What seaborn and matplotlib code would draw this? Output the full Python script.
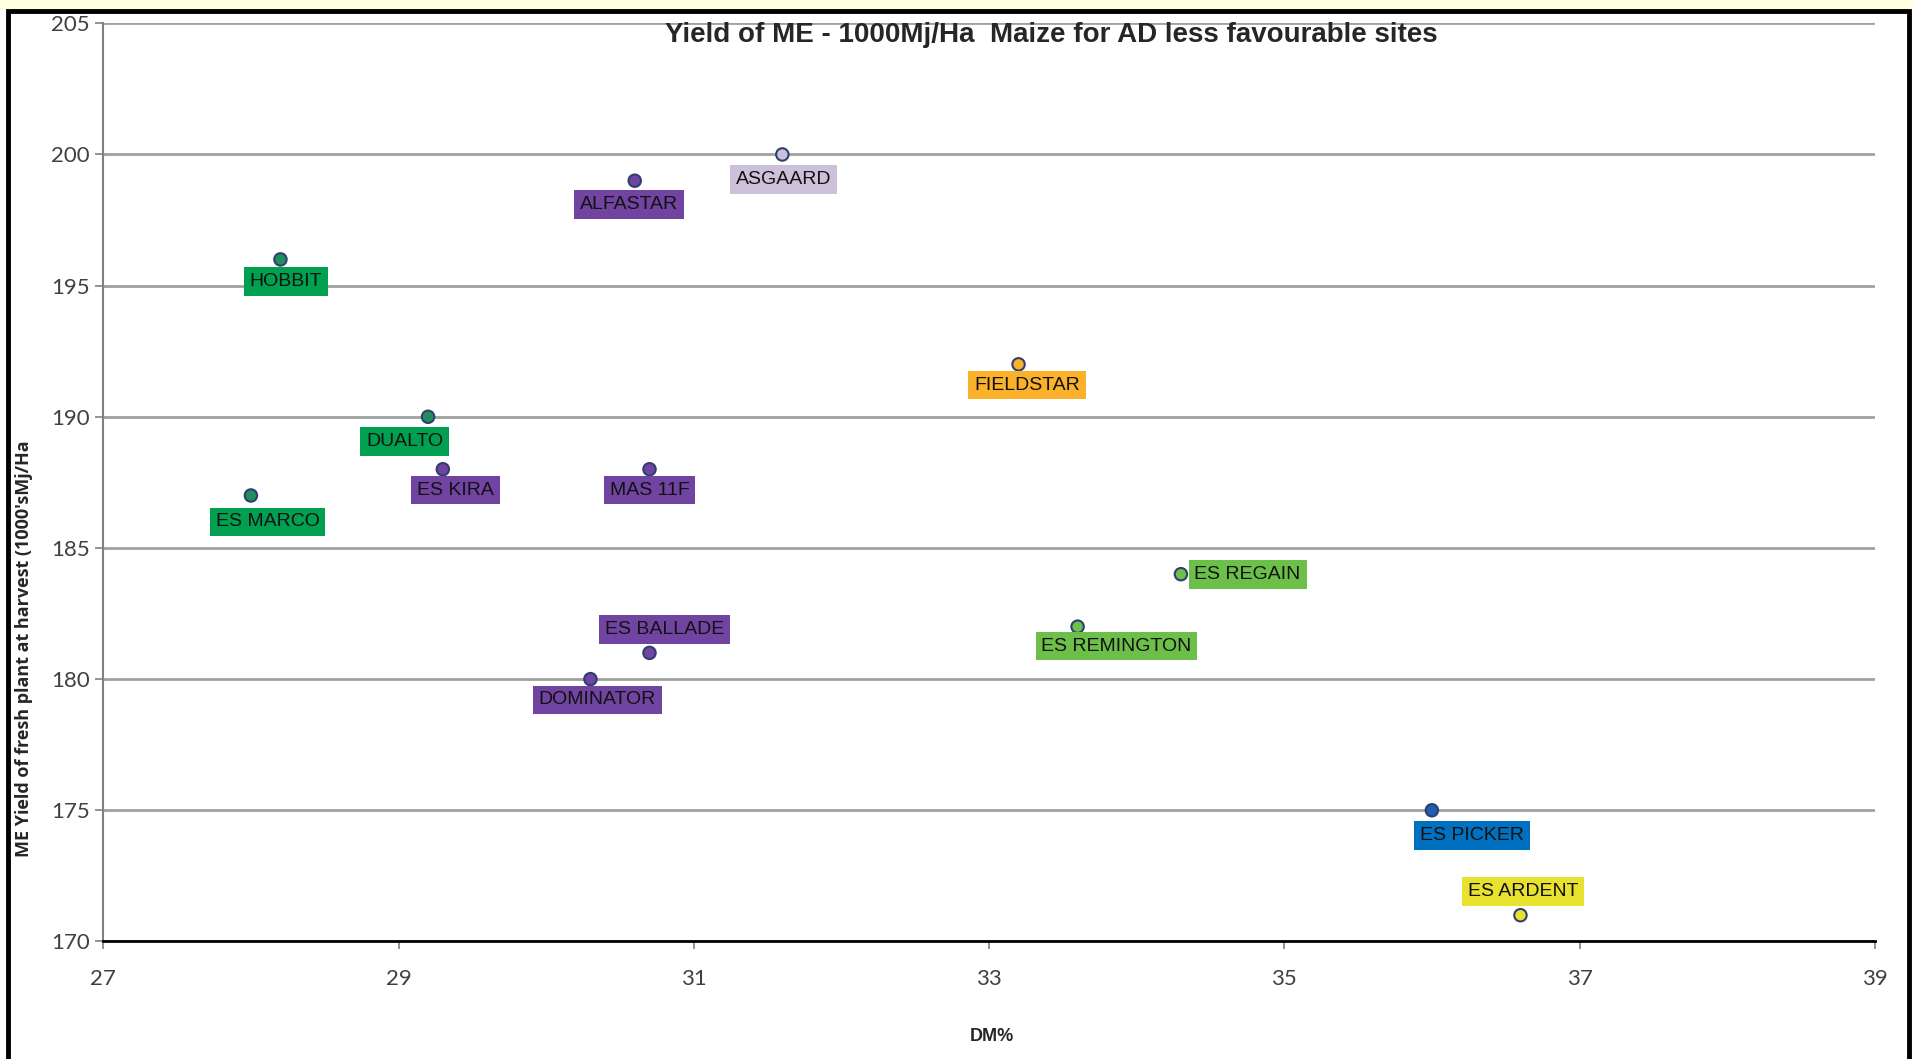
import seaborn as sns
import matplotlib.pyplot as plt
import pandas as pd
from matplotlib.patches import Rectangle

# variety data
varieties = ["HOBBIT", "ALFASTAR", "ASGAARD", "FIELDSTAR", "DUALTO", "ES KIRA",
             "MAS 11F", "ES MARCO", "ES REGAIN", "ES REMINGTON", "ES BALLADE",
             "DOMINATOR", "ES PICKER", "ES ARDENT"]
dm_pct = [28.2, 30.6, 31.6, 33.2, 29.2, 29.3, 30.7, 28.0, 34.3, 33.6, 30.7, 30.3, 36.0, 36.6]
me_yield = [196, 199, 200, 192, 190, 188, 188, 187, 184, 182, 181, 180, 175, 171]

df = pd.DataFrame({"variety": varieties, "dm": dm_pct, "yield": me_yield})

# colours of the labels / points
label_colors = {
    "HOBBIT": "#00A050", "DUALTO": "#00A050", "ES MARCO": "#00A050",
    "ALFASTAR": "#7044A0", "ES KIRA": "#7044A0", "MAS 11F": "#7044A0",
    "ES BALLADE": "#7044A0", "DOMINATOR": "#7044A0",
    "ASGAARD": "#CCC0DA", "FIELDSTAR": "#FBB22A",
    "ES REGAIN": "#6CC04A", "ES REMINGTON": "#6CC04A",
    "ES PICKER": "#0070C0", "ES ARDENT": "#E8E22E",
}
point_colors = dict(label_colors)
point_colors.update({"HOBBIT": "#1E9060", "DUALTO": "#1E9060", "ES MARCO": "#1E9060",
                     "ES PICKER": "#1F5FB0"})

# label offsets in points
offsets = {
    "HOBBIT": (4, -16), "ALFASTAR": (-4, -17), "ASGAARD": (1, -18),
    "FIELDSTAR": (6, -15), "DUALTO": (-17, -18), "ES KIRA": (9, -15),
    "MAS 11F": (0, -15), "ES MARCO": (12, -19), "ES REGAIN": (48, 0),
    "ES REMINGTON": (28, -14), "ES BALLADE": (11, 17), "DOMINATOR": (5, -15),
    "ES PICKER": (29, -18), "ES ARDENT": (2, 17),
}

sns.set_style("white")
plt.rcParams['font.family'] = ['Liberation Sans', 'DejaVu Sans']

fig = plt.figure(figsize=(19.13, 10.59), dpi=100)
ax = fig.add_axes([0.054, 0.111, 0.926, 0.867])

sns.scatterplot(data=df, x="dm", y="yield", hue="variety", palette=point_colors,
                s=80, edgecolor="#2F3F70", linewidth=1.5, legend=False, ax=ax, zorder=3)

for _, row in df.iterrows():
    ax.annotate(row["variety"], (row["dm"], row["yield"]),
                xytext=offsets[row["variety"]], textcoords="offset points",
                ha="center", va="center", fontsize=14, color="#111111", zorder=4,
                bbox=dict(boxstyle="square,pad=0.3", fc=label_colors[row["variety"]], ec="none"))

ax.set_xlim(27, 39)
ax.set_ylim(170, 205)
ax.set_xticks(range(27, 40, 2))
ax.set_yticks(range(170, 206, 5))
ax.yaxis.grid(True, color="#A0A0A0", linewidth=2)
ax.set_axisbelow(True)
for sp in ["top", "right"]:
    ax.spines[sp].set_visible(False)
ax.spines["left"].set_color("#808080")
ax.spines["left"].set_linewidth(1.5)
ax.spines["bottom"].set_color("#000000")
ax.spines["bottom"].set_linewidth(2)
ax.tick_params(axis="both", direction="out", length=6, width=1.2, color="#808080",
               labelsize=16, labelcolor="#404040", left=True, bottom=True)
ax.tick_params(axis="x", pad=14)
for lab in ax.get_xticklabels() + ax.get_yticklabels():
    lab.set_fontfamily(['Lato', 'DejaVu Sans'])
ax.set_xlabel("")
ax.set_ylabel("")

ax.text(0.535, 0.987, "Yield of ME - 1000Mj/Ha  Maize for AD less favourable sites",
        transform=ax.transAxes, ha="center", va="center", fontsize=20, fontweight="bold")
fig.text(0.5186, 0.021, "DM%", ha="center", va="center", fontsize=13, fontweight="bold")
fig.text(0.0127, 0.387, "ME Yield of fresh plant at harvest (1000'sMj/Ha", rotation=90,
         ha="center", va="center", fontsize=13, fontweight="bold",
         family=['Open Sans', 'DejaVu Sans'])

# frame round the chart and strip above it
fig.patches.append(Rectangle((0, 0.991), 1, 0.009, transform=fig.transFigure,
                             fc="#FFFFE0", ec="none", zorder=0))
fig.patches.append(Rectangle((0.004, -0.01), 0.994, 1.0, transform=fig.transFigure,
                             fill=False, ec="black", lw=3.5, zorder=5))

fig.savefig("out.png", dpi=100)
